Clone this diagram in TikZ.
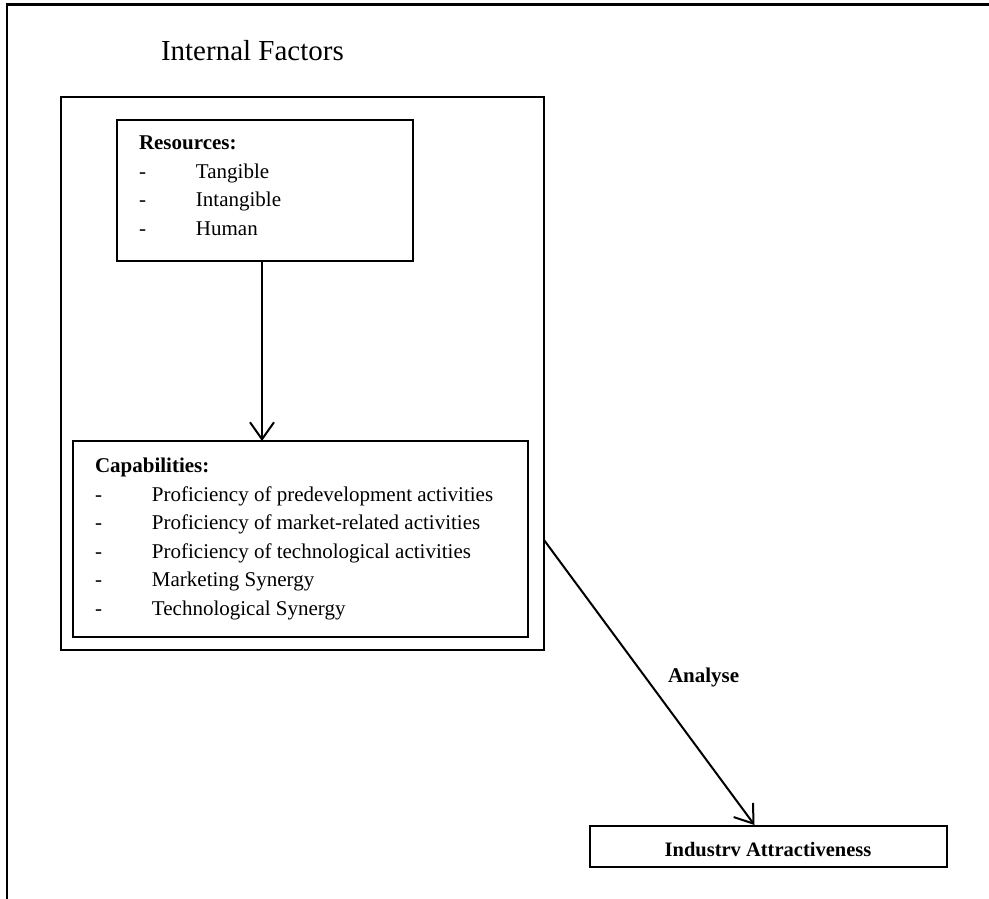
\documentclass[tikz,border=0pt]{standalone}
\usepackage{fontspec}
\setmainfont{Liberation Serif}
\usetikzlibrary{arrows.meta}

\tikzset{
  boxline/.style={draw=black, line width=2pt, inner sep=0pt, outer sep=0pt},
  txt/.style={inner sep=0pt, outer sep=0pt, align=left},
  arr/.style={draw=black, line width=2pt,
    -{Straight Barb[length=17pt, width=24pt, line width=2pt]}},
  frameline/.style={draw=black, line width=2.2pt},
}

\newcommand{\bodysize}{\fontsize{21}{28.5}\selectfont}

\begin{document}
\begin{tikzpicture}[x=1pt, y=-1pt]
  \useasboundingbox (0,0) rectangle (989,899);

  % page frame (top and left edges)
  \draw[frameline] (995,4.5) -- (7,4.5) -- (7,905);

  % title
  \node[txt, anchor=base west] (title) at (161,60.7)
    {\fontsize{29}{34}\selectfont Internal Factors};

  % container of internal factors
  \node[boxline, anchor=north west, minimum width=483pt, minimum height=553pt]
    (cont) at (61,97) {};

  % resources box
  \node[boxline, anchor=north west, minimum width=296pt, minimum height=141pt]
    (res) at (117,120) {};
  \node[txt, anchor=north west] (restext) at (139,130) {\bodysize
    \begin{tabular}{@{}p{57pt}@{}l@{}}
      \multicolumn{2}{@{}l@{}}{\bfseries Resources:}\\
      - & Tangible\\
      - & Intangible\\
      - & Human
    \end{tabular}};

  % capabilities box
  \node[boxline, anchor=north west, minimum width=455pt, minimum height=196pt]
    (cap) at (73,441) {};
  \node[txt, anchor=north west] (captext) at (95,452.7) {\bodysize
    \begin{tabular}{@{}p{57pt}@{}l@{}}
      \multicolumn{2}{@{}l@{}}{\bfseries Capabilities:}\\
      - & Proficiency of predevelopment activities\\
      - & Proficiency of market-related activities\\
      - & Proficiency of technological activities\\
      - & Marketing Synergy\\
      - & Technological Synergy
    \end{tabular}};

  % industry attractiveness box
  \node[boxline, anchor=north west, minimum width=357pt, minimum height=41pt]
    (ind) at (590,826) {};
  \node[txt, anchor=base] (indtext) at (768,856.7)
    {\fontsize{20.5}{24}\selectfont\bfseries Industrv Attractiveness};

  % connectors
  \draw[arr] ([xshift=-3pt]res.south) -- ([xshift=-3pt]res.south |- cap.north);

  \coordinate (aY) at (0,540);
  \draw[arr] (cont.east |- aY) -- ([xshift=-14pt, yshift=1pt]ind.north);

  \node[txt, anchor=base west] (analyse) at (668,682)
    {\fontsize{21}{24}\selectfont\bfseries Analyse};
\end{tikzpicture}
\end{document}
